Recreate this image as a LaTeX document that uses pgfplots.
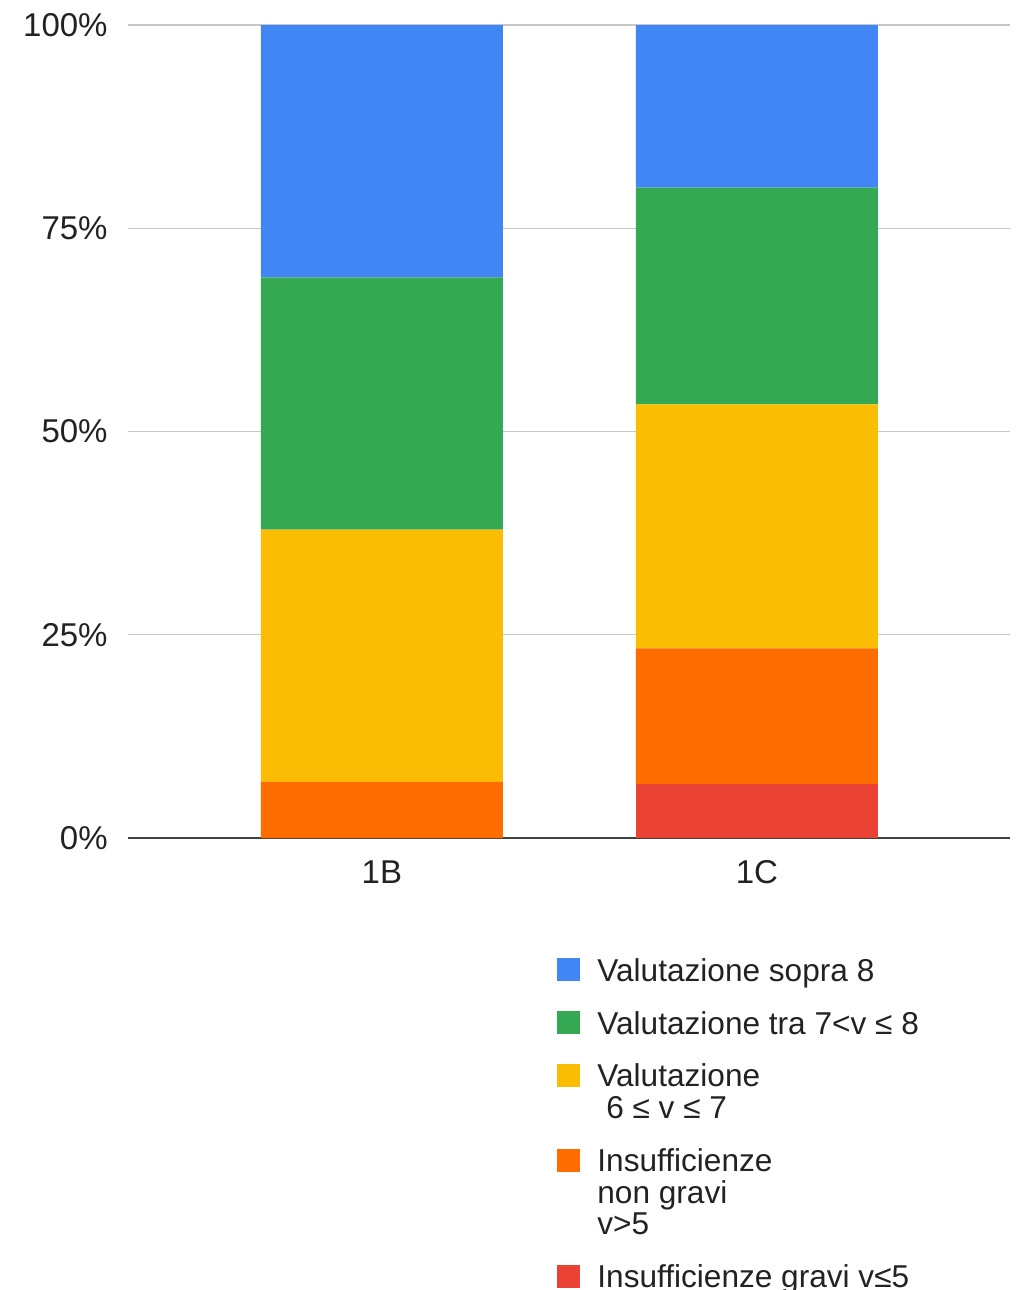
\documentclass[border=0pt]{standalone}
\usepackage{pgfplots}
\pgfplotsset{compat=1.18}
\usepackage{fontspec}
\setmainfont{Liberation Sans}
\definecolor{cblue}{HTML}{4285F4}
\definecolor{cgreen}{HTML}{34A853}
\definecolor{cyellow}{HTML}{FBBC04}
\definecolor{corange}{HTML}{FF6D01}
\definecolor{cred}{HTML}{EA4335}
\definecolor{ctext}{HTML}{222222}
\begin{document}
\begin{tikzpicture}
\useasboundingbox (0,0) rectangle (512.5pt,-645pt);
\begin{axis}[
  at={(64pt,-419pt)}, anchor=south west,
  scale only axis, width=441pt, height=406.5pt,
  ybar stacked, bar width=121pt,
  xmin=-0.677, xmax=1.675, ymin=0, ymax=100,
  xtick={0,1}, xticklabels={1B,1C},
  ytick={0,25,50,75,100},
  yticklabel={\pgfmathprintnumber{\tick}\%},
  /pgf/number format/assume math mode=true,
  ticklabel style={font=\fontsize{16.5pt}{18pt}\selectfont, text=ctext},
  yticklabel style={anchor=east, inner sep=0pt, xshift=-10pt},
  xticklabel style={anchor=north, inner sep=0pt, yshift=-11pt},
  separate axis lines,
  axis x line*=bottom, axis y line*=left,
  y axis line style={draw=none},
  x axis line style={draw=black!75, line width=0.8pt},
  tick style={draw=none},
  ymajorgrids, grid style={black!22, line width=0.6pt},
  legend style={at={(0.4864,-0.1476)}, anchor=north west, draw=none, fill=none,
    inner sep=0pt, font=\fontsize{15.8pt}{15.7pt}\selectfont, text=ctext,
    row sep=13.4pt, column sep=8.5pt, nodes={inner sep=0pt, anchor=base west}},
  legend cell align=left, reverse legend,
  legend image code/.code={\path (0pt,0pt); \fill[#1] (0pt,0pt) rectangle (11.5pt,11.5pt);},
]
\addplot[fill=cred, draw=none] coordinates {(0,0) (1,6.67)};
\addlegendentry{Insufficienze gravi v≤5}
\addplot[fill=corange, draw=none,
  legend image code/.code={\path (0pt,0pt); \fill[corange] (0pt,31.4pt) rectangle (11.5pt,42.9pt);}]
  coordinates {(0,6.90) (1,16.67)};
\addlegendentry{\begin{tabular}[b]{@{}l@{}}Insufficienze\\non gravi\\v>5\end{tabular}}
\addplot[fill=cyellow, draw=none,
  legend image code/.code={\path (0pt,0pt); \fill[cyellow] (0pt,15.7pt) rectangle (11.5pt,27.2pt);}]
  coordinates {(0,31.03) (1,30.00)};
\addlegendentry{\begin{tabular}[b]{@{}l@{}}Valutazione\\\hspace{0.28em}6 ≤ v ≤ 7\end{tabular}}
\addplot[fill=cgreen, draw=none] coordinates {(0,31.03) (1,26.67)};
\addlegendentry{Valutazione tra 7<v ≤ 8}
\addplot[fill=cblue, draw=none] coordinates {(0,31.04) (1,20.00)};
\addlegendentry{Valutazione sopra 8}
\end{axis}
\end{tikzpicture}
\end{document}
